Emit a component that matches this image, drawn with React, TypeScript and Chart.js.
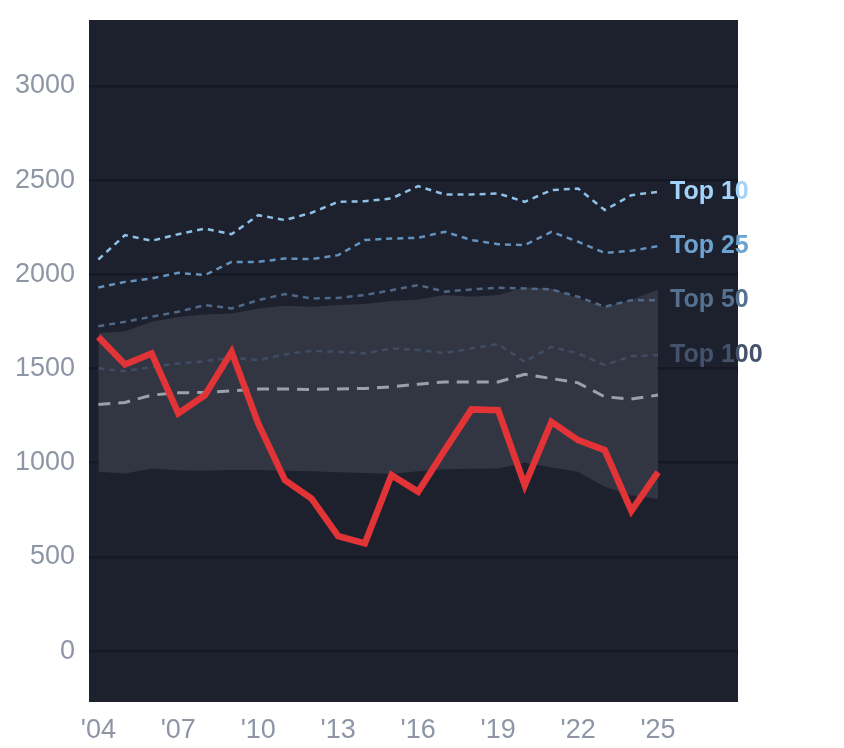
import { Chart, registerables } from 'chart.js'
import { useEffect, useRef } from 'react'

Chart.register(...registerables)

// years 2004..2025
const years = [
	2004, 2005, 2006, 2007, 2008, 2009, 2010, 2011, 2012, 2013, 2014, 2015,
	2016, 2017, 2018, 2019, 2020, 2021, 2022, 2023, 2024, 2025
]
const xTicks = [2004, 2007, 2010, 2013, 2016, 2019, 2022, 2025]
const yTicks = [0, 500, 1000, 1500, 2000, 2500, 3000]

const main = [
	1668, 1522, 1580, 1262, 1359, 1589, 1208, 908, 810, 610, 572, 934, 846,
	1067, 1283, 1279, 881, 1217, 1120, 1067, 745, 950
]
const top10 = [
	2079, 2208, 2178, 2213, 2243, 2213, 2314, 2288, 2327, 2385, 2388, 2403,
	2468, 2424, 2424, 2429, 2385, 2447, 2456, 2341, 2420, 2438
]
const top25 = [
	1930, 1960, 1978, 2008, 1996, 2066, 2066, 2084, 2081, 2102, 2182, 2190,
	2194, 2226, 2182, 2160, 2155, 2226, 2173, 2114, 2125, 2150
]
const top50 = [
	1725, 1748, 1775, 1801, 1837, 1819, 1863, 1895, 1872, 1875, 1890, 1916,
	1943, 1908, 1920, 1929, 1925, 1920, 1881, 1828, 1863, 1863
]
const top100 = [
	1501, 1486, 1509, 1527, 1539, 1557, 1545, 1575, 1594, 1589, 1580, 1607,
	1598, 1582, 1607, 1630, 1536, 1616, 1580, 1518, 1566, 1571
]
const median = [
	1309, 1320, 1359, 1371, 1373, 1382, 1391, 1392, 1389, 1392, 1394, 1403,
	1417, 1429, 1429, 1429, 1470, 1447, 1424, 1350, 1338, 1359
]
const bandLow = [
	952, 943, 970, 960, 958, 962, 962, 958, 955, 950, 945, 940, 955, 965, 968,
	970, 1000, 975, 952, 872, 828, 807
]
const bandHigh = [
	1688, 1698, 1748, 1774, 1787, 1792, 1819, 1833, 1828, 1837, 1842, 1859,
	1867, 1890, 1881, 1890, 1930, 1925, 1872, 1826, 1865, 1920
]

const tops = [
	{ label: 'Top 10', data: top10, line: '#8fc0e6', text: '#a3d3f8' },
	{ label: 'Top 25', data: top25, line: '#6593bf', text: '#6ea2d0' },
	{ label: 'Top 50', data: top50, line: '#4f6887', text: '#56718f' },
	{ label: 'Top 100', data: top100, line: '#3f4c64', text: '#44526b' }
]

const pts = (arr: number[]) => arr.map((y, i) => ({ x: years[i], y }))

// фон области графика
const plotBg = {
	id: 'plotBg',
	beforeDraw(chart: Chart) {
		const { ctx, chartArea: a } = chart
		ctx.save()
		ctx.fillStyle = '#1d212e'
		ctx.fillRect(a.left, a.top, a.right - a.left, a.bottom - a.top)
		ctx.restore()
	}
}

// подписи Top N справа от последней точки
const endLabels = {
	id: 'endLabels',
	afterDraw(chart: Chart) {
		const { ctx } = chart
		const xs = chart.scales.x
		const ys = chart.scales.y
		ctx.save()
		ctx.font = 'bold 25px "Liberation Sans", Arial, sans-serif'
		ctx.textBaseline = 'middle'
		ctx.textAlign = 'left'
		tops.forEach(t => {
			const last = t.data.length - 1
			ctx.fillStyle = t.text
			ctx.fillText(
				t.label,
				xs.getPixelForValue(years[last]) + 12,
				ys.getPixelForValue(t.data[last])
			)
		})
		ctx.restore()
	}
}

export default function App() {
	const canvasRef = useRef<HTMLCanvasElement | null>(null)

	useEffect(() => {
		if (!canvasRef.current) return
		const tickFont = { family: '"Liberation Sans", Arial, sans-serif', size: 27 }

		// order: больше — рисуется раньше (ниже)
		const chart = new Chart(canvasRef.current, {
			type: 'line',
			data: {
				datasets: [
					{
						data: pts(bandLow),
						borderWidth: 0,
						pointRadius: 0,
						fill: false,
						order: 20
					},
					{
						data: pts(bandHigh),
						borderWidth: 0,
						pointRadius: 0,
						backgroundColor: '#323643',
						fill: '-1',
						order: 19
					},
					...tops.map((t, i) => ({
						data: pts(t.data),
						borderColor: t.line,
						borderWidth: 2.5,
						borderDash: [6, 5],
						pointRadius: 0,
						fill: false,
						order: 10 - i
					})),
					{
						data: pts(median),
						borderColor: '#9ba1ab',
						borderWidth: 3,
						borderDash: [12, 8],
						pointRadius: 0,
						fill: false,
						order: 2
					},
					{
						data: pts(main),
						borderColor: '#e23336',
						borderWidth: 6.5,
						pointRadius: 0,
						fill: false,
						order: 0
					}
				]
			},
			options: {
				animation: false,
				responsive: true,
				maintainAspectRatio: false,
				layout: { padding: { top: 12, right: 98, left: 0, bottom: 0 } },
				elements: { line: { tension: 0 } },
				scales: {
					x: {
						type: 'linear',
						min: 2003.65,
						max: 2028,
						afterBuildTicks: s => {
							s.ticks = xTicks.map(v => ({ value: v }))
						},
						afterFit: s => {
							s.height = 38
						},
						grid: { display: false },
						border: { display: false },
						ticks: {
							color: '#8e96a5',
							font: tickFont,
							padding: 4,
							maxRotation: 0,
							callback: v => "'" + String(v).slice(2)
						}
					},
					y: {
						min: -270,
						max: 3350,
						afterBuildTicks: s => {
							s.ticks = yTicks.map(v => ({ value: v }))
						},
						afterFit: s => {
							s.width = 81
							s.paddingTop = 0
							s.paddingBottom = 0
						},
						grid: { color: '#151823', lineWidth: 2.5, drawTicks: false },
						border: { display: false },
						ticks: {
							color: '#8e96a5',
							font: tickFont,
							padding: 14,
							callback: v => String(v)
						}
					}
				},
				plugins: {
					legend: { display: false },
					tooltip: { enabled: false }
				}
			},
			plugins: [plotBg, endLabels]
		})

		return () => {
			chart.destroy()
		}
	}, [])

	return (
		<div style={{ width: 828, height: 732 }}>
			<canvas ref={canvasRef} />
		</div>
	)
}
